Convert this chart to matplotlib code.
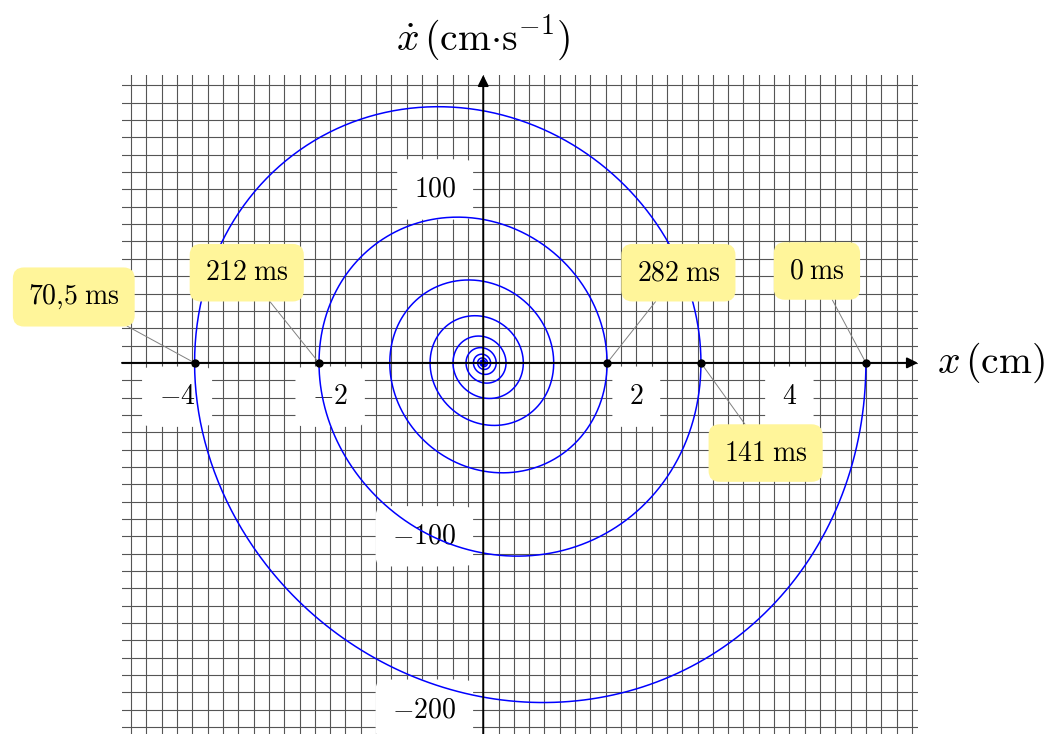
import numpy as np
import matplotlib.pyplot as plt

plt.rcParams['mathtext.fontset'] = 'cm'
plt.rcParams['font.family'] = 'DejaVu Serif'

# Damped oscillator, values
x0 = 5.0          # cm, starting position (at rest)
period = 0.141    # s, pseudo-period
decay = 4.0       # 1/s, damping rate
t_end = 1.5       # s

# Marked turning points (velocity = 0)
mark_times_ms = [0, 70.5, 141, 212, 282]
mark_labels = ['0', '70{,}5', '141', '212', '282']

# Where the yellow labels sit (data coords)
label_pos = [(4.36, 53), (-5.35, 38), (3.69, -52), (-3.09, 52), (2.55, 52)]

x_ticks = [-4, -2, 2, 4]
y_ticks = [100, -100, -200]

xmin, xmax = -4.72, 5.68
ymin, ymax = -214, 166


# Position and velocity of the oscillator
def position(t):
    w = 2 * np.pi / period
    return x0 * np.exp(-decay * t) * (np.cos(w * t) + decay / w * np.sin(w * t))


def velocity(t):
    w = 2 * np.pi / period
    return -x0 * np.exp(-decay * t) * (w + decay ** 2 / w) * np.sin(w * t)


fig = plt.figure(figsize=(10.48, 7.34), dpi=100)
ax = fig.add_axes([0.1164, 0.0, 0.7595, 0.8978])
ax.set_xlim(xmin, xmax)
ax.set_ylim(ymin, ymax)

# fine grid
ax.set_xticks(np.arange(-4.6, 5.61, 0.2))
ax.set_yticks(np.arange(-210, 161, 10))
ax.tick_params(length=0, labelbottom=False, labelleft=False)
ax.grid(True, color='#555555', lw=0.8)
ax.set_axisbelow(True)
for s in ax.spines.values():
    s.set_visible(False)

# axes with arrows
arrow = dict(arrowstyle='-|>', color='black', lw=1.4, mutation_scale=16, shrinkA=0, shrinkB=0)
ax.annotate('', xy=(xmax, 0), xytext=(xmin, 0), arrowprops=arrow, zorder=2.5)
ax.annotate('', xy=(0, ymax), xytext=(0, ymin), arrowprops=arrow, zorder=2.5)

# tick labels on white boxes
white = dict(boxstyle='round,pad=0.6,rounding_size=0.35', fc='white', ec='none')
for v in x_ticks:
    ax.text(v, -19.5, '$%d$' % v if v > 0 else '$-%d$' % -v, ha='center', va='center',
            fontsize=20, bbox=white, zorder=1.5)
for v in y_ticks:
    ax.text(-0.35, v, '$%d$' % v if v > 0 else '$-%d$' % -v, ha='right', va='center',
            fontsize=20, bbox=white, zorder=1.5)

# phase portrait
t = np.linspace(0, t_end, 6000)
ax.plot(position(t), velocity(t), color='#0000ff', lw=1.1, zorder=2)

# turning points with labels
yellow = dict(boxstyle='round,pad=0.55,rounding_size=0.4', fc='#fff59a', ec='none')
for tm, lab, pos in zip(mark_times_ms, mark_labels, label_pos):
    xp = position(tm / 1000)
    ax.annotate(r'$%s\;\mathrm{ms}$' % lab, xy=(xp, 0), xytext=pos, fontsize=20,
                ha='center', va='center', bbox=yellow, annotation_clip=False,
                arrowprops=dict(arrowstyle='-', color='#808080', lw=0.7, shrinkA=0, shrinkB=0),
                zorder=5)
    ax.plot(xp, 0, 'o', color='black', ms=5, zorder=6)

# axis titles
ax.text(5.93, 0, r'$x\,(\mathrm{cm})$', fontsize=28.5, ha='left', va='center')
ax.text(0, 187, r'$\dot{x}\,(\mathrm{cm}{\cdot}\mathrm{s}^{-1})$', fontsize=28.5,
        ha='center', va='center')

fig.savefig('out.png', dpi=100)
